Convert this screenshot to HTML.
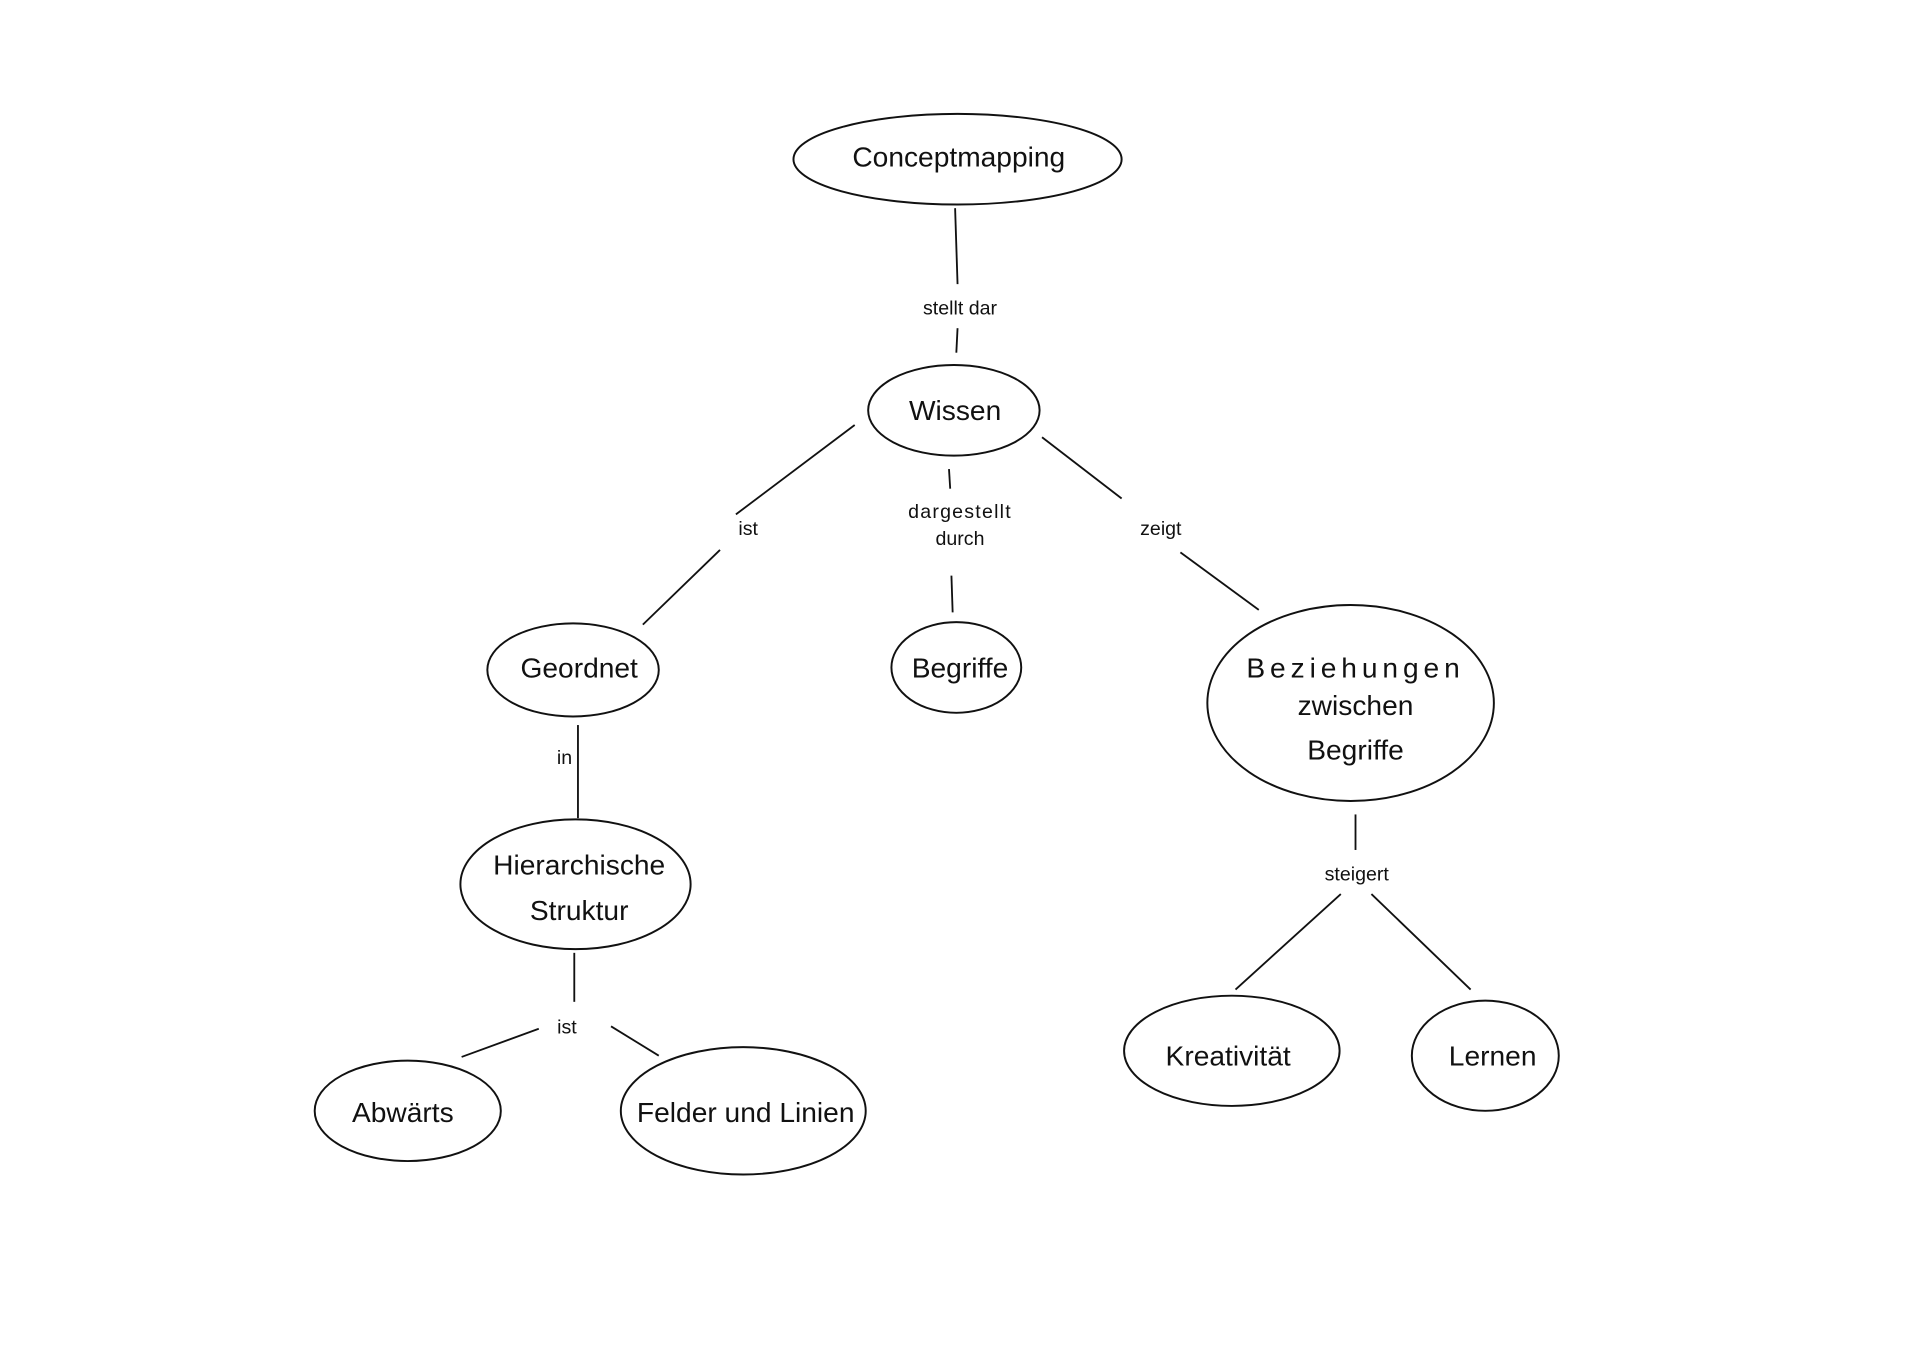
<!DOCTYPE html>
<html><head><meta charset="utf-8"><style>
html,body{margin:0;padding:0;background:#fff;}
svg{display:block;}
text{font-family:"Liberation Sans",sans-serif;fill:#111;text-anchor:middle;}
.n{font-size:23px;}
.l{font-size:16px;}
ellipse{fill:none;stroke:#111;stroke-width:1.6;}
line{stroke:#111;stroke-width:1.5;}
</style></head><body>
<svg width="1920" height="1357" viewBox="0 0 1568 1108" preserveAspectRatio="none">
<rect width="1568" height="1108" fill="#fff"/>
<ellipse cx="782" cy="130" rx="134" ry="37"/>
<text class="n" x="783" y="136">Conceptmapping</text>
<ellipse cx="779" cy="335" rx="70" ry="37"/>
<text class="n" x="780" y="343">Wissen</text>
<ellipse cx="468" cy="547" rx="70" ry="38"/>
<text class="n" x="473" y="553">Geordnet</text>
<ellipse cx="781" cy="545" rx="53" ry="37"/>
<text class="n" x="784" y="553">Begriffe</text>
<ellipse cx="1103" cy="574" rx="117" ry="80"/>
<text class="n" x="1107" y="553" letter-spacing="4">Beziehungen</text>
<text class="n" x="1107" y="584">zwischen</text>
<text class="n" x="1107" y="620">Begriffe</text>
<ellipse cx="470" cy="722" rx="94" ry="53"/>
<text class="n" x="473" y="714">Hierarchische</text>
<text class="n" x="473" y="751">Struktur</text>
<ellipse cx="333" cy="907" rx="76" ry="41"/>
<text class="n" x="329" y="916">Abwärts</text>
<ellipse cx="607" cy="907" rx="100" ry="52"/>
<text class="n" x="609" y="916">Felder und Linien</text>
<ellipse cx="1006" cy="858" rx="88" ry="45"/>
<text class="n" x="1003" y="870">Kreativität</text>
<ellipse cx="1213" cy="862" rx="60" ry="45"/>
<text class="n" x="1219" y="870">Lernen</text>

<line x1="780" y1="170" x2="782" y2="232"/>
<line x1="782" y1="268" x2="781" y2="288"/>
<text class="l" x="784" y="257">stellt dar</text>

<line x1="698" y1="347" x2="601" y2="420"/>
<line x1="588" y1="449" x2="525" y2="510"/>
<text class="l" x="611" y="437">ist</text>

<line x1="775" y1="383" x2="776" y2="399"/>
<line x1="777" y1="470" x2="778" y2="500"/>
<text class="l" x="784" y="423" letter-spacing="1">dargestellt</text>
<text class="l" x="784" y="445">durch</text>

<line x1="851" y1="357" x2="916" y2="407"/>
<line x1="964" y1="451" x2="1028" y2="498"/>
<text class="l" x="948" y="437">zeigt</text>

<line x1="472" y1="592" x2="472" y2="668"/>
<text class="l" x="461" y="624">in</text>

<line x1="469" y1="778" x2="469" y2="818"/>
<text class="l" x="463" y="844">ist</text>
<line x1="440" y1="840" x2="377" y2="863"/>
<line x1="499" y1="838" x2="538" y2="862"/>

<line x1="1107" y1="665" x2="1107" y2="694"/>
<text class="l" x="1108" y="719">steigert</text>
<line x1="1095" y1="730" x2="1009" y2="808"/>
<line x1="1120" y1="730" x2="1201" y2="808"/>
</svg>
</body></html>
